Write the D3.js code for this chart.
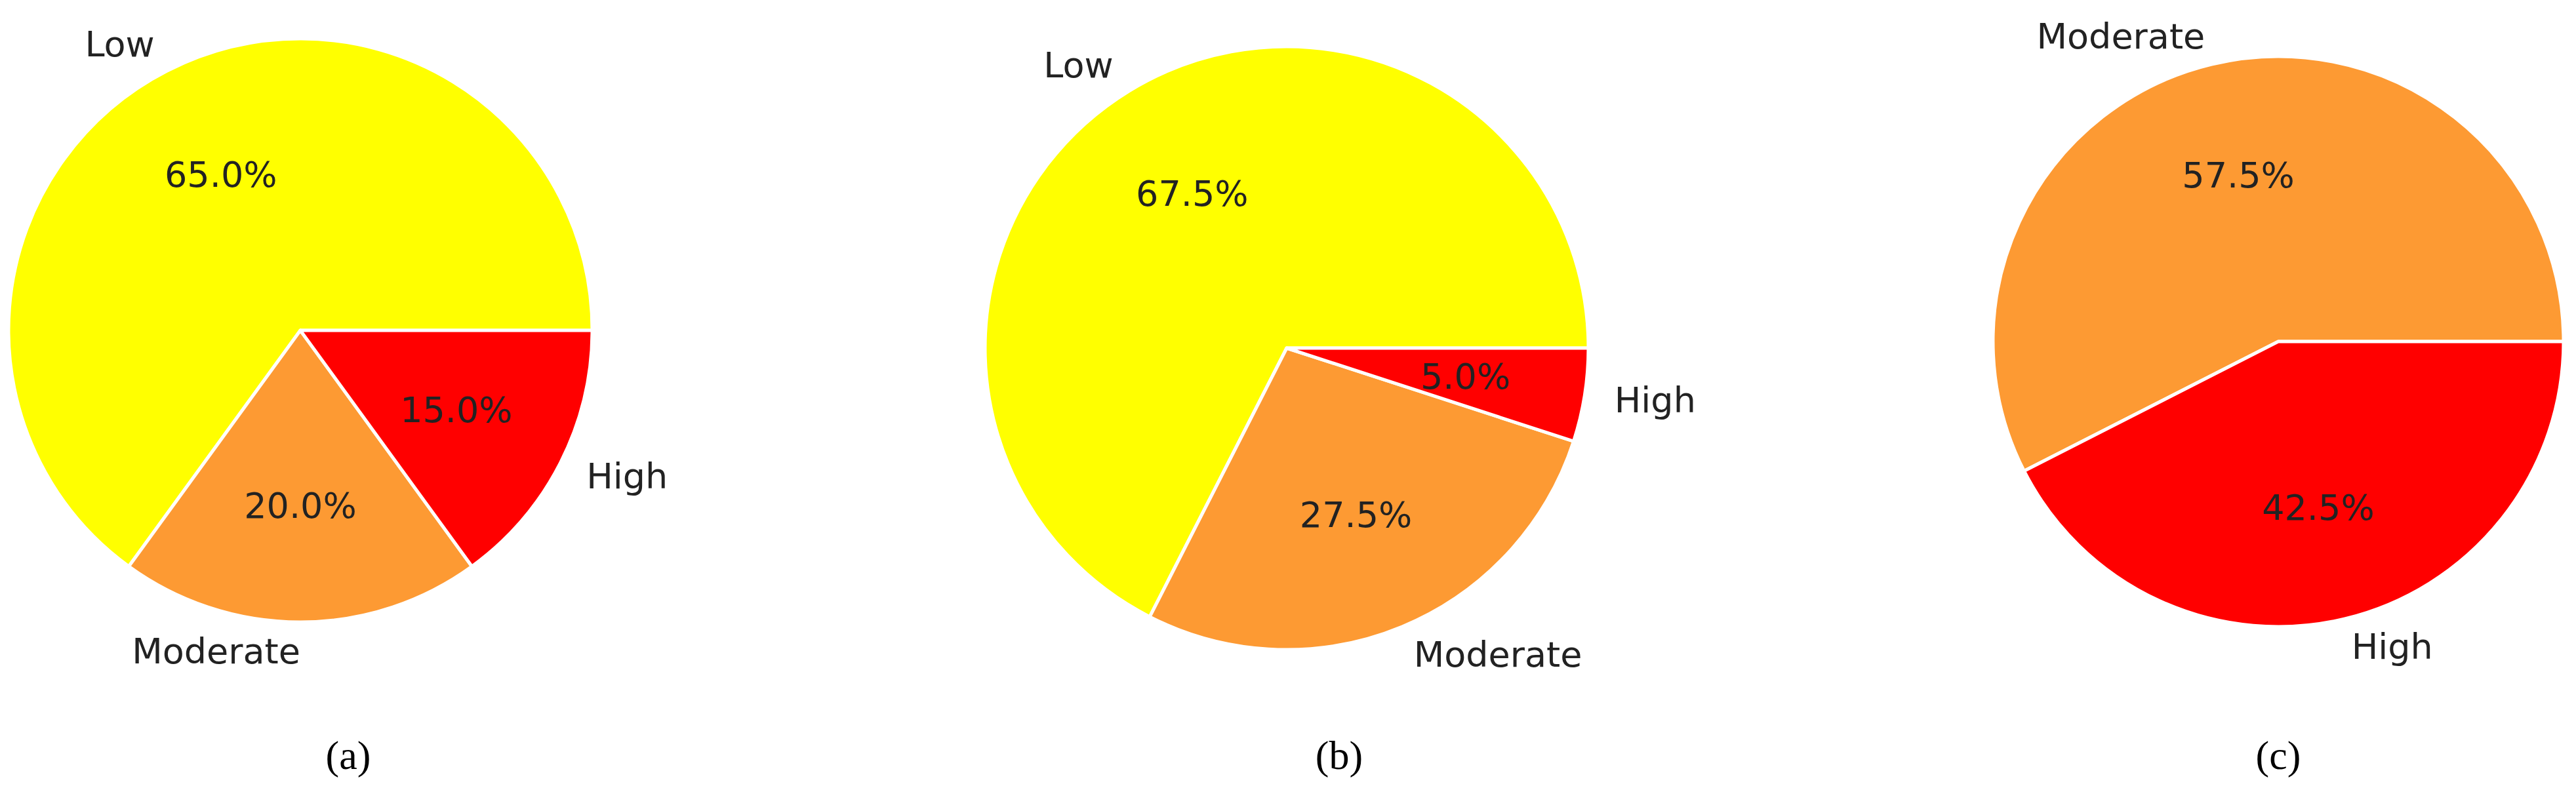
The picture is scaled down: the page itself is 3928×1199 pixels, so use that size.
<!DOCTYPE html>
<html><head><meta charset="utf-8">
<script src="https://cdn.jsdelivr.net/npm/d3@7"></script>
<style>body{margin:0;background:#fff}</style></head>
<body><svg id="c" width="3928" height="1199"></svg>
<script>
const labelsA = ["Low","Moderate","High"];
const valuesA = [65.0,20.0,15.0];
const labelsB = ["Low","Moderate","High"];
const valuesB = [67.5,27.5,5.0];
const labelsC = ["Moderate","High"];
const valuesC = [57.5,42.5];
const captions = ["(a)","(b)","(c)"];
const colorMap = {Low:"#ffff00",Moderate:"#fd9a33",High:"#ff0000"};

const svg = d3.select("#c");
const panels = [
  {labels:labelsA, values:valuesA, cx:458, cy:504, r:445, capX:531},
  {labels:labelsB, values:valuesB, cx:1962, cy:531, r:460, capX:2042},
  {labels:labelsC, values:valuesC, cx:3474, cy:521, r:435, capX:3474}
];
const pie = d3.pie().sort(null).startAngle(Math.PI/2).endAngle(Math.PI/2-2*Math.PI);
panels.forEach((p,i)=>{
  const data = p.labels.map((l,j)=>({label:l,value:p.values[j]}));
  const arcs = pie.value(d=>d.value)(data);
  const g = svg.append("g").attr("transform",`translate(${p.cx},${p.cy})`);
  const arc = d3.arc().innerRadius(0).outerRadius(p.r);
  g.selectAll("path").data(arcs).join("path")
    .attr("d",arc).attr("fill",d=>colorMap[d.data.label])
    .attr("stroke","#fff").attr("stroke-width",5).attr("stroke-linejoin","round");
  arcs.forEach(a=>{
    const mid = (a.startAngle+a.endAngle)/2; // d3 angle: 0 up, clockwise
    const x = Math.sin(mid), y = -Math.cos(mid);
    g.append("text").attr("x",x*p.r*1.1).attr("y",y*p.r*1.1)
      .attr("text-anchor", x<0?"end":"start").attr("dominant-baseline","central")
      .attr("font-family","DejaVu Sans").attr("font-size",54).attr("fill","#222")
      .text(a.data.label);
    g.append("text").attr("x",x*p.r*0.6).attr("y",y*p.r*0.6)
      .attr("text-anchor","middle").attr("dominant-baseline","central")
      .attr("font-family","DejaVu Sans").attr("font-size",54).attr("fill","#222")
      .text(a.data.value.toFixed(1)+"%");
  });
  svg.append("text").attr("x",p.capX).attr("y",1152).attr("text-anchor","middle")
    .attr("dominant-baseline","central").attr("font-family","Liberation Serif")
    .attr("font-size",62).attr("fill","#000").text(captions[i]);
});
</script></body></html>
